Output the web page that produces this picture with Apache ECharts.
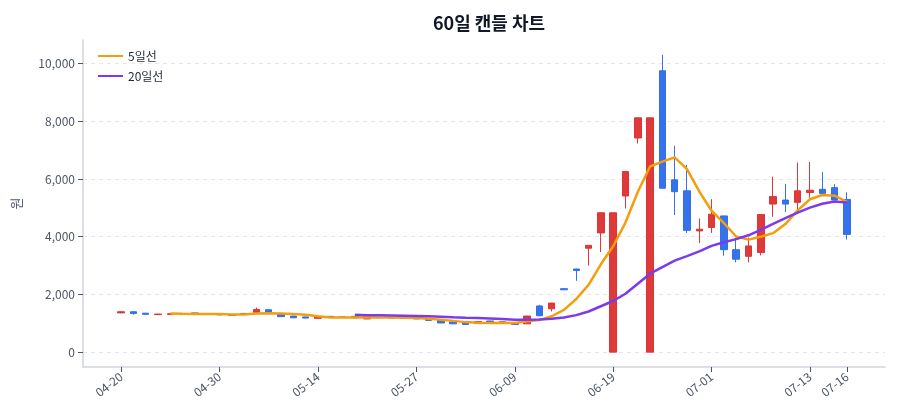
<!DOCTYPE html>
<html>
<head>
<meta charset="utf-8">
<script src="https://cdn.jsdelivr.net/npm/echarts@6/dist/echarts.min.js"></script>
<style>
  html, body { margin: 0; padding: 0; background: #fff; }
  #chart { width: 900px; height: 420px; }
</style>
</head>
<body>
<div id="chart"></div>
<script>
// 거래일 (60일)
var dates = ['04-20','04-21','04-22','04-23','04-24','04-27','04-28','04-29','04-30','05-04',
  '05-06','05-07','05-08','05-11','05-12','05-13','05-14','05-15','05-18','05-19',
  '05-20','05-21','05-22','05-26','05-27','05-28','05-29','06-01','06-02','06-04',
  '06-05','06-08','06-09','06-10','06-11','06-12','06-15','06-16','06-17','06-18',
  '06-19','06-22','06-23','06-24','06-25','06-26','06-29','06-30','07-01','07-02',
  '07-03','07-06','07-07','07-08','07-09','07-10','07-13','07-14','07-15','07-16'];

var opens = [1360,1400,1350,1300,1305,1330,1360,1320,1310,1290,
  1340,1380,1470,1330,1250,1220,1170,1240,1220,1240,
  1150,1200,1190,1180,1190,1150,1130,1050,1040,990,
  1080,1050,1020,980,1600,1500,2200,2880,3600,4130,
  0,5410,7420,0,9750,5970,5590,4200,4320,4720,
  3550,3320,3450,5130,5270,5190,5530,5640,5700,5290];

var closes = [1400,1340,1310,1320,1330,1335,1320,1315,1290,1270,
  1320,1480,1380,1230,1190,1180,1220,1200,1215,1190,
  1200,1195,1185,1175,1150,1100,1010,980,960,1060,
  1040,1045,960,1250,1260,1700,2160,2830,3700,4830,
  4830,6260,8120,8120,5680,5560,4220,4260,4780,3550,
  3220,3680,4770,5390,5130,5590,5610,5500,5270,4080];

var lows = [1350,1300,1300,1295,1300,1325,1315,1310,1285,1265,
  1315,1370,1375,1225,1185,1175,1165,1195,1210,1185,
  1145,1190,1180,1170,1145,1095,1005,975,950,985,
  1035,1040,940,975,1255,1410,2150,2470,3000,3470,
  0,4980,7230,0,5670,4750,4130,3780,4130,3340,
  3110,3110,3350,4690,4860,4920,5350,5490,5260,3900];

var highs = [1410,1405,1355,1325,1335,1340,1365,1325,1315,1295,
  1360,1540,1475,1335,1255,1225,1225,1245,1225,1245,
  1205,1205,1195,1185,1195,1155,1135,1055,1045,1065,
  1085,1055,1025,1260,1640,1705,2210,2890,3710,4840,
  4830,6270,8130,8120,10300,7150,6490,4630,5300,4730,
  3970,3970,4780,6080,5830,6570,6590,6240,5820,5540];

// 이동평균선
var ma5 = [null,null,null,null,1340,1327,1323,1324,1318,1306,
  1303,1335,1348,1336,1320,1292,1240,1204,1201,1201,
  1205,1200,1197,1189,1181,1161,1124,1083,1040,1022,
  1010,1017,1013,1071,1111,1243,1466,1840,2330,3044,
  3670,4490,5548,6432,6602,6748,6340,5568,4900,4474,
  4006,3898,4000,4122,4438,4912,5298,5444,5420,5210];

var ma20 = [null,null,null,null,null,null,null,null,null,null,
  null,null,null,null,null,null,null,null,null,1292,
  1282,1275,1268,1261,1252,1240,1225,1208,1192,1181,
  1167,1145,1124,1125,1129,1155,1202,1283,1408,1590,
  1771,2024,2371,2718,2945,3168,3328,3492,3683,3808,
  3917,4049,4239,4446,4640,4834,5007,5140,5219,5181];

var xTicks = [0, 8, 16, 24, 32, 40, 48, 56, 59];
var yTicks = [0, 2000, 4000, 6000, 8000, 10000];

var chart = echarts.init(document.getElementById('chart'));

var fontFamily = "'Noto Sans CJK KR', 'Noto Sans', sans-serif";

var candleData = dates.map(function (d, i) {
  return [i, opens[i], closes[i], lows[i], highs[i]];
});
function toPairs(arr) {
  var out = [];
  arr.forEach(function (v, i) { if (v != null) out.push([i, v]); });
  return out;
}

var option = {
  animation: false,
  textStyle: { fontFamily: fontFamily },
  title: {
    text: '60일 캔들 차트',
    left: 484,
    textAlign: 'center',
    top: 9,
    textStyle: { fontSize: 18, fontWeight: 'bold', color: '#111827', fontFamily: fontFamily }
  },
  legend: {
    orient: 'vertical',
    left: 92,
    top: 45,
    itemWidth: 25,
    itemHeight: 3,
    itemGap: 8,
    data: ['5일선', '20일선'],
    textStyle: { fontSize: 12, color: '#1f2937' }
  },
  grid: { left: 83, right: 15, top: 40, bottom: 53 },
  xAxis: {
    type: 'value',
    min: -3.1,
    max: 62.1,
    axisLine: { show: true, onZero: false, lineStyle: { color: '#d1d5db', width: 1.5 } },
    axisTick: { show: true, length: 5, customValues: xTicks, lineStyle: { color: '#4b5563' } },
    axisLabel: {
      customValues: xTicks,
      rotate: 38,
      fontSize: 12,
      color: '#4b5563',
      margin: 8,
      formatter: function (v) { return dates[Math.round(v)] || ''; }
    },
    splitLine: { show: false }
  },
  yAxis: {
    type: 'value',
    min: -515,
    max: 10815,
    name: '원',
    nameLocation: 'middle',
    nameGap: 60,
    nameTextStyle: { fontSize: 13, color: '#4b5563' },
    axisLine: { show: true, onZero: false, lineStyle: { color: '#d1d5db', width: 1.5 } },
    axisTick: { show: true, length: 5, customValues: yTicks, lineStyle: { color: '#4b5563' } },
    axisLabel: {
      customValues: yTicks,
      fontSize: 12,
      color: '#4b5563',
      formatter: function (v) { return v.toLocaleString('en-US'); }
    },
    splitLine: { show: true, lineStyle: { color: '#e5e7eb', type: [4, 4] } }
  },
  series: [
    {
      name: '캔들',
      type: 'candlestick',
      data: candleData,
      encode: { x: 0, y: [1, 2, 3, 4] },
      barWidth: 7,
      z: 2,
      itemStyle: {
        color: '#dc2f2f',
        color0: '#2b6cea',
        borderColor: '#dc2f2f',
        borderColor0: '#2b6cea',
        borderWidth: 1,
        opacity: 0.95
      }
    },
    {
      name: '5일선',
      type: 'line',
      data: toPairs(ma5),
      symbol: 'none',
      z: 3,
      lineStyle: { color: '#f59e0b', width: 2.5 },
      itemStyle: { color: '#f59e0b' }
    },
    {
      name: '20일선',
      type: 'line',
      data: toPairs(ma20),
      symbol: 'none',
      z: 3,
      lineStyle: { color: '#7c3aed', width: 2.5 },
      itemStyle: { color: '#7c3aed' }
    }
  ]
};

chart.setOption(option);
</script>
</body>
</html>
